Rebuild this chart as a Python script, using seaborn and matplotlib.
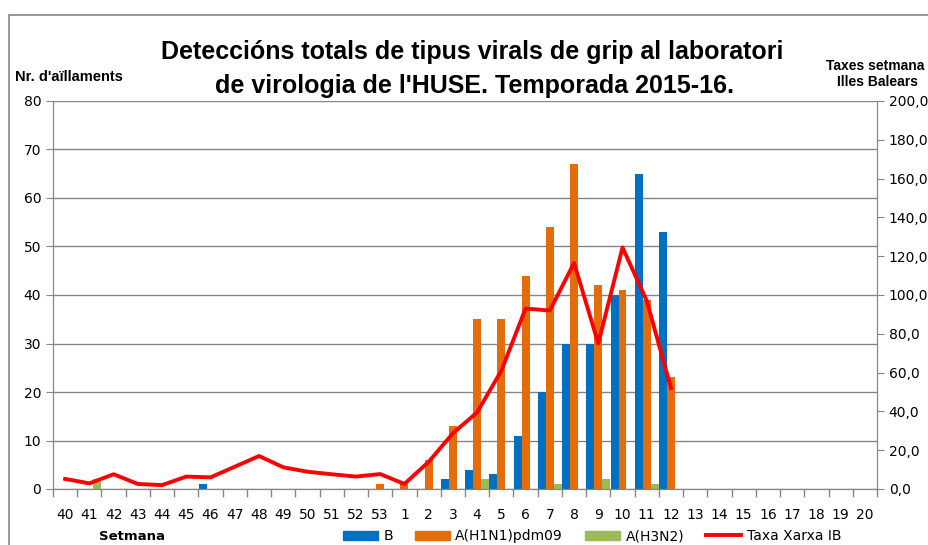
import pandas as pd
import matplotlib.pyplot as plt
import matplotlib.patches as mpatches
from matplotlib.lines import Line2D
import seaborn as sns

weeks = [str(w) for w in list(range(40, 54)) + list(range(1, 21))]

b_vals = [0, 0, 0, 0, 0, 0, 1, 0, 0, 0, 0, 0, 0, 0,
          0, 0, 2, 4, 3, 11, 20, 30, 30, 40, 65, 53,
          0, 0, 0, 0, 0, 0, 0, 0]
h1n1_vals = [0, 0, 0, 0, 0, 0, 0, 0, 0, 0, 0, 0, 0, 1,
             1, 6, 13, 35, 35, 44, 54, 67, 42, 41, 39, 23,
             0, 0, 0, 0, 0, 0, 0, 0]
h3n2_vals = [0, 2, 0, 0, 0, 0, 0, 0, 0, 0, 0, 0, 0, 0,
             0, 0, 0, 2, 0, 0, 1, 0, 2, 0, 1, 0,
             0, 0, 0, 0, 0, 0, 0, 0]
# weekly rate, only available up to week 12
taxa_vals = [5.2, 2.9, 7.6, 2.6, 2.0, 6.4, 6.0, 11.5, 17.0, 11.2, 8.9, 7.6, 6.4, 7.7,
             2.6, 14.0, 28.7, 39.5, 61.0, 93.0, 92.0, 116.5, 75.0, 124.5, 97.0, 52.0]

series_names = ["B", "A(H1N1)pdm09", "A(H3N2)"]
colors = ["#0070C0", "#E46C0A", "#9BBB59"]
red = "#FF0000"

df = pd.DataFrame({
    "week": weeks * 3,
    "value": b_vals + h1n1_vals + h3n2_vals,
    "serie": [s for s in series_names for _ in weeks],
})

label_font = ["Liberation Sans", "DejaVu Sans"]

fig = plt.figure(figsize=(9.29, 5.45), dpi=100)
ax = fig.add_axes([53 / 929, 1 - 489 / 545, (877 - 53) / 929, (489 - 101) / 545])

sns.barplot(data=df, x="week", y="value", hue="serie", order=weeks, hue_order=series_names,
            palette=colors, width=0.98, gap=0, dodge=True, legend=False, ax=ax,
            saturation=1, linewidth=0)

ax.set_ylim(0, 80)
ax.set_yticks(range(0, 81, 10))
ax.set_xlim(-0.5, len(weeks) - 0.5)
ax.set_xlabel("")
ax.set_ylabel("")
ax.set_axisbelow(True)
ax.grid(axis="y", color="#868686", linewidth=1.0)
ax.grid(axis="x", visible=False)
ax.set_xticks(range(len(weeks)))
ax.set_xticklabels(weeks)
ax.set_xticks([i - 0.5 for i in range(len(weeks) + 1)], minor=True)
ax.tick_params(axis="x", which="major", length=0, pad=14, labelsize=10)
ax.tick_params(axis="x", which="minor", length=6, color="#868686", width=1)
ax.tick_params(axis="y", length=5, color="#868686", labelsize=10)
ax.spines["top"].set_visible(False)
for side in ["left", "bottom", "right"]:
    ax.spines[side].set_color("#868686")

ax2 = ax.twinx()
sns.lineplot(x=list(range(len(taxa_vals))), y=taxa_vals, ax=ax2, color=red, linewidth=2.8)
ax2.set_ylim(0, 200)
ax2.set_yticks(range(0, 201, 20))
ax2.set_yticklabels([f"{v},0" for v in range(0, 201, 20)])
ax2.tick_params(axis="y", length=5, color="#868686", labelsize=10)
ax2.set_xlim(-0.5, len(weeks) - 0.5)
ax2.set_ylabel("")
ax2.spines["top"].set_visible(False)
for side in ["left", "bottom", "right"]:
    ax2.spines[side].set_color("#868686")

fig.text(472 / 929, 1 - 52 / 545, "Deteccións totals de tipus virals de grip al laboratori",
         ha="center", va="center", fontsize=18, fontweight="bold", family=label_font)
fig.text(475 / 929, 1 - 86 / 545, "de virologia de l'HUSE. Temporada 2015-16.",
         ha="center", va="center", fontsize=18, fontweight="bold", family=label_font)
fig.text(15 / 929, 1 - 77 / 545, "Nr. d'aïllaments", ha="left", va="center",
         fontsize=10.5, fontweight="bold", family=label_font)
fig.text(826 / 929, 1 - 66 / 545, "Taxes setmana", ha="left", va="center",
         fontsize=10, fontweight="bold", family=label_font)
fig.text(878 / 929, 1 - 82 / 545, "Illes Balears", ha="center", va="center",
         fontsize=10, fontweight="bold", family=label_font)
fig.text(132 / 929, 1 - 536 / 545, "Setmana", ha="center", va="center",
         fontsize=9.5, fontweight="bold", family=["DejaVu Sans"])

handles = [mpatches.Patch(color=c, label=n) for c, n in zip(colors, series_names)]
handles.append(Line2D([], [], color=red, linewidth=2.8, label="Taxa Xarxa IB"))
fig.legend(handles=handles, loc="center", bbox_to_anchor=(592 / 929, 1 - 536 / 545), ncol=4,
           frameon=False, fontsize=10, handlelength=2.5, handleheight=0.6,
           columnspacing=1.6, handletextpad=0.4)

# outer chart border
fig.add_artist(mpatches.Rectangle((9 / 929, -0.05), 1.0, 1 - 15 / 545 + 0.05,
                                  transform=fig.transFigure, fill=False,
                                  edgecolor="#868686", linewidth=1.2))

fig.savefig("out.png", dpi=100)
